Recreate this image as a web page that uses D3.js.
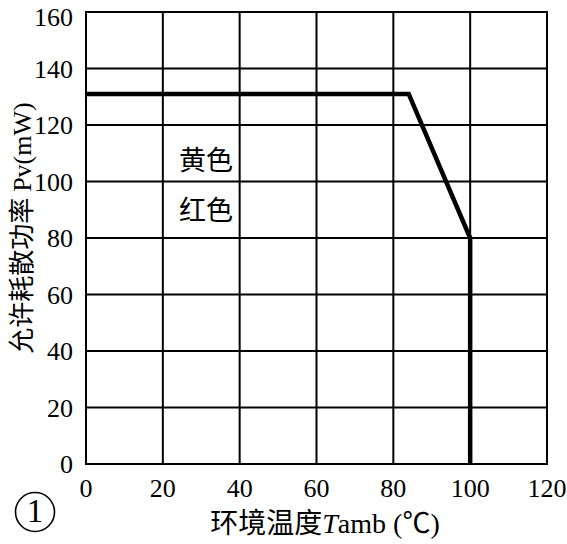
<!DOCTYPE html>
<html><head><meta charset="utf-8">
<script src="https://cdn.jsdelivr.net/npm/d3@7"></script>
<style>body{margin:0;background:#fff}</style>
</head><body>
<svg id="c" width="567" height="544"></svg>
<script>
const xTicks = [0,20,40,60,80,100,120];
const yTicks = [0,20,40,60,80,100,120,140,160];
const curveT = [0, 84, 100, 100];
const curveP = [131, 131, 80, 0];
const notes = [{text:"黄色", y:107.6}, {text:"红色", y:89.9}];

const svg = d3.select("#c");
const L=86, R=547, T=12, B=464;
const x = d3.scaleLinear().domain([0,120]).range([L,R]);
const y = d3.scaleLinear().domain([0,160]).range([B,T]);
const serif = "'Liberation Serif', 'Times New Roman', Tinos, serif";
const cjk = "'Noto Sans CJK SC', sans-serif";

// grid
svg.append("g").selectAll("line").data(xTicks).join("line")
  .attr("x1",d=>x(d)).attr("x2",d=>x(d)).attr("y1",T).attr("y2",B)
  .attr("stroke","#000").attr("stroke-width",2);
svg.append("g").selectAll("line").data(yTicks).join("line")
  .attr("y1",d=>y(d)).attr("y2",d=>y(d)).attr("x1",L).attr("x2",R)
  .attr("stroke","#000").attr("stroke-width",2);
svg.append("rect").attr("x",L).attr("y",T).attr("width",R-L).attr("height",B-T)
  .attr("fill","none").attr("stroke","#000").attr("stroke-width",2);

// tick labels (top label pushed down to stay inside the page)
svg.append("g").selectAll("text").data(yTicks).join("text")
  .attr("x",L-13).attr("y",d=>Math.max(y(d)+9, 26)).attr("text-anchor","end")
  .style("font-family",serif).attr("font-size",26).text(d=>d);
svg.append("g").selectAll("text").data(xTicks).join("text")
  .attr("x",d=>x(d)).attr("y",B+33).attr("text-anchor","middle")
  .style("font-family",serif).attr("font-size",26).text(d=>d);

// curve
const pts = curveT.map((t,i)=>[t,curveP[i]]);
svg.append("path").attr("d", d3.line().x(d=>x(d[0])).y(d=>y(d[1]))(pts))
  .attr("fill","none").attr("stroke","#000").attr("stroke-width",4.5)
  .attr("stroke-linejoin","miter");

// notes
notes.forEach(n=>{
  svg.append("text").attr("x",206).attr("y",y(n.y)+10).attr("text-anchor","middle")
    .style("font-family",cjk).attr("font-size",27).text(n.text);
});

// x title
const xt = svg.append("text").attr("x",325).attr("y",533).attr("text-anchor","middle")
  .attr("font-size",28).style("font-family",serif);
xt.append("tspan").style("font-family",cjk).text("环境温度");
xt.append("tspan").attr("font-style","italic").text("T");
xt.append("tspan").text("amb (");
xt.append("tspan").style("font-family",cjk).text("℃");
xt.append("tspan").text(")");

// y title
const yt = svg.append("text").attr("transform","translate(31,228) rotate(-90)")
  .attr("text-anchor","middle").attr("font-size",26).style("font-family",serif);
yt.append("tspan").style("font-family",cjk).text("允许耗散功率 ");
yt.append("tspan").text("Pv(mW)");

// circled 1
svg.append("circle").attr("cx",35).attr("cy",512).attr("r",19.5)
  .attr("fill","none").attr("stroke","#000").attr("stroke-width",1.6);
svg.append("text").attr("x",35).attr("y",522).attr("text-anchor","middle")
  .style("font-family",serif).attr("font-size",33).text("1");
</script>
</body></html>
